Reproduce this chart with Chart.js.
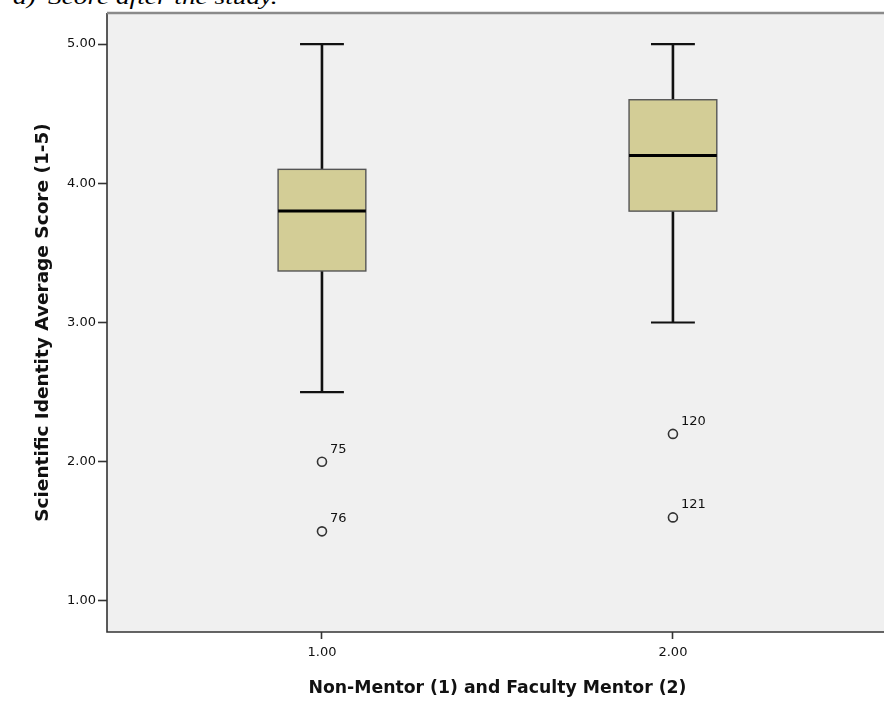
<!DOCTYPE html>
<html>
<head>
<meta charset="utf-8">
<script src="https://cdn.jsdelivr.net/npm/chart.js@4.4.1/dist/chart.umd.min.js"></script>
<style>
  html, body { margin: 0; padding: 0; background: #ffffff; overflow: hidden; width: 884px; height: 707px; }
  #wrap { position: relative; width: 884px; height: 707px; overflow: hidden; }
  #c { position: absolute; left: 0; top: 0; }
  .cap { position: absolute; top: -15px; font: italic 21px "Liberation Serif", serif; color: #000; white-space: nowrap; transform: scaleX(1.3); transform-origin: 0 0; }
</style>
</head>
<body>
<div id="wrap">
  <span class="cap" style="left:13px">a)</span>
  <span class="cap" style="left:48px">Score after the study.</span>
  <canvas id="c" width="894" height="707"></canvas>
</div>
<script>
// ---- data ----
const groups = [1, 2];
const groupLabels = ["1.00", "2.00"];
const whiskerLow = [2.5, 3.0];
const q1 = [3.37, 3.8];
const medians = [3.8, 4.2];
const q3 = [4.1, 4.6];
const whiskerHigh = [5.0, 5.0];
const outlierGroup = [1, 1, 2, 2];
const outlierValues = [2.0, 1.5, 2.2, 1.6];
const outlierIds = ["75", "76", "120", "121"];
const yTicks = [1, 2, 3, 4, 5];

const boxWidth = 0.25;   // in x-axis units
const capWidth = 0.125;
const FONT = '"DejaVu Sans", Verdana, sans-serif';

const boxPlugin = {
  id: 'boxes',
  beforeDatasetsDraw(chart) {
    const {ctx, chartArea: a, scales: {x, y}} = chart;
    ctx.save();
    ctx.fillStyle = '#f0f0f0';
    ctx.fillRect(a.left, a.top, a.right - a.left, a.bottom - a.top);
    groups.forEach((g, i) => {
      const cx = x.getPixelForValue(g);
      const xl = x.getPixelForValue(g - boxWidth / 2);
      const xr = x.getPixelForValue(g + boxWidth / 2);
      const cl = x.getPixelForValue(g - capWidth / 2);
      const cr = x.getPixelForValue(g + capWidth / 2);
      const yLo = y.getPixelForValue(whiskerLow[i]);
      const yHi = y.getPixelForValue(whiskerHigh[i]);
      const yQ1 = y.getPixelForValue(q1[i]);
      const yQ3 = y.getPixelForValue(q3[i]);
      const yMed = y.getPixelForValue(medians[i]);
      ctx.strokeStyle = '#111';
      ctx.lineWidth = 2.6;
      ctx.beginPath();
      ctx.moveTo(cx, yHi); ctx.lineTo(cx, yQ3);
      ctx.moveTo(cx, yQ1); ctx.lineTo(cx, yLo);
      ctx.stroke();
      ctx.lineWidth = 2.2;
      ctx.beginPath();
      ctx.moveTo(cl, yHi); ctx.lineTo(cr, yHi);
      ctx.moveTo(cl, yLo); ctx.lineTo(cr, yLo);
      ctx.stroke();
      ctx.fillStyle = '#d3cd96';
      ctx.fillRect(xl, yQ3, xr - xl, yQ1 - yQ3);
      ctx.strokeStyle = '#555';
      ctx.lineWidth = 1.4;
      ctx.strokeRect(xl, yQ3, xr - xl, yQ1 - yQ3);
      ctx.strokeStyle = '#000';
      ctx.lineWidth = 3;
      ctx.beginPath();
      ctx.moveTo(xl, yMed); ctx.lineTo(xr, yMed);
      ctx.stroke();
    });
    ctx.strokeStyle = '#333';
    ctx.lineWidth = 1.6;
    ctx.beginPath();
    ctx.moveTo(a.left, a.top); ctx.lineTo(a.left, a.bottom); ctx.lineTo(a.right, a.bottom);
    ctx.stroke();
    ctx.strokeStyle = '#8a8a8a';
    ctx.lineWidth = 2.5;
    ctx.beginPath();
    ctx.moveTo(a.left, a.top); ctx.lineTo(a.right, a.top);
    ctx.stroke();
    ctx.restore();
  },
  afterDatasetsDraw(chart) {
    const {ctx, scales: {x, y}} = chart;
    ctx.save();
    ctx.fillStyle = '#111';
    ctx.font = '13px ' + FONT;
    ctx.textAlign = 'left';
    ctx.textBaseline = 'alphabetic';
    outlierValues.forEach((v, i) => {
      const px = x.getPixelForValue(outlierGroup[i]);
      const py = y.getPixelForValue(v);
      ctx.fillText(outlierIds[i], px + 8, py - 9);
    });
    ctx.restore();
  }
};

new Chart(document.getElementById('c'), {
  type: 'scatter',
  data: {
    datasets: [{
      data: outlierValues.map((v, i) => ({x: outlierGroup[i], y: v})),
      pointStyle: 'circle',
      pointRadius: 4.5,
      pointHoverRadius: 4.5,
      borderColor: '#333',
      borderWidth: 1.6,
      backgroundColor: '#f0f0f0'
    }]
  },
  options: {
    responsive: false,
    devicePixelRatio: 1,
    animation: false,
    events: [],
    layout: { padding: { top: 13, left: 0, right: 0, bottom: 0 } },
    plugins: { legend: { display: false }, tooltip: { enabled: false } },
    scales: {
      x: {
        type: 'linear',
        min: 0.3875,
        max: 2.6125,
        afterBuildTicks: s => { s.ticks = groups.map(v => ({value: v})); },
        afterFit: s => { s.height = 75; },
        ticks: {
          callback: (v) => groupLabels[groups.indexOf(v)] ?? '',
          color: '#111',
          font: { family: FONT, size: 13 },
          padding: 6,
          maxRotation: 0
        },
        grid: { drawOnChartArea: false, drawTicks: true, tickLength: 7, tickColor: '#333', tickWidth: 1.6 },
        border: { display: false },
        title: {
          display: true,
          text: 'Non-Mentor (1) and Faculty Mentor (2)',
          color: '#111',
          font: { family: FONT, size: 17.3, weight: 'bold' },
          padding: { top: 0, bottom: 8 }
        }
      },
      y: {
        type: 'linear',
        min: 0.777,
        max: 5.223,
        afterBuildTicks: s => { s.ticks = yTicks.map(v => ({value: v})); },
        afterFit: s => { s.width = 107; },
        ticks: {
          callback: v => Number(v).toFixed(2),
          color: '#111',
          font: { family: FONT, size: 13 },
          padding: 2
        },
        grid: { drawOnChartArea: false, drawTicks: true, tickLength: 9, tickColor: '#333', tickWidth: 1.6 },
        border: { display: false },
        title: {
          display: true,
          text: 'Scientific Identity Average Score (1-5)',
          color: '#111',
          font: { family: FONT, size: 18.5, weight: 'bold' },
          padding: { top: 32, bottom: 0 }
        }
      }
    }
  },
  plugins: [boxPlugin]
});
</script>
</body>
</html>
